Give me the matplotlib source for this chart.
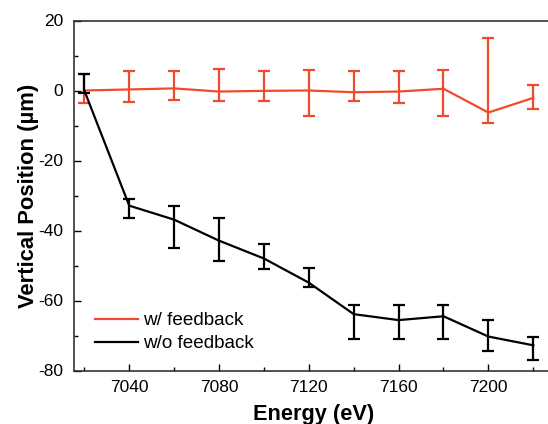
import matplotlib
matplotlib.use("Agg")
import matplotlib.pyplot as plt
import numpy as np
from matplotlib.ticker import MultipleLocator
from matplotlib.lines import Line2D

plt.rcParams['font.family'] = ['Liberation Sans', 'DejaVu Sans']
plt.rcParams['axes.unicode_minus'] = False

energy = [7020, 7040, 7060, 7080, 7100, 7120, 7140, 7160, 7180, 7200, 7220]

fb_y = [0.0, 0.3, 0.6, -0.3, -0.1, 0.0, -0.5, -0.3, 0.5, -6.3, -2.1]
fb_top = [4.6, 5.6, 5.6, 6.1, 5.6, 6.0, 5.6, 5.6, 6.0, 15.1, 1.7]
fb_bot = [-3.5, -3.4, -2.6, -3.0, -3.0, -7.3, -3.0, -3.5, -7.3, -9.3, -5.3]

nofb_y = [0.0, -32.9, -36.9, -42.9, -48.0, -54.9, -63.9, -65.6, -64.5, -70.3, -72.8]
nofb_top = [4.8, -31.1, -32.9, -36.3, -43.9, -50.7, -61.3, -61.3, -61.3, -65.6, -70.3]
nofb_bot = [-0.7, -36.3, -44.9, -48.8, -51.1, -56.0, -70.9, -70.9, -70.9, -74.3, -77.1]

labels = ['w/ feedback', 'w/o feedback']
xticks = [7040, 7080, 7120, 7160, 7200]
yticks = [20, 0, -20, -40, -60, -80]

red = '#f04a2c'

fig = plt.figure(figsize=(5.48, 4.24), dpi=100)
ax = fig.add_axes([74/548, 1 - 370.5/424, (548 - 74)/548 + 0.01, 350/424])

def errs(y, top, bot):
    y = np.array(y); top = np.array(top); bot = np.array(bot)
    return np.vstack([y - bot, top - y])

ax.errorbar(energy, fb_y, yerr=errs(fb_y, fb_top, fb_bot), color=red, lw=1.6,
            elinewidth=1.6, capsize=4, capthick=1.6, zorder=2)
ax.errorbar(energy, nofb_y, yerr=errs(nofb_y, nofb_top, nofb_bot), color='black', lw=1.6,
            elinewidth=1.6, capsize=4, capthick=1.6, zorder=3)

ax.set_xlim(7015.4, 7229)
ax.set_ylim(-80, 20)
ax.set_xticks(xticks)
ax.set_yticks(yticks)
ax.xaxis.set_minor_locator(MultipleLocator(20))
ax.yaxis.set_minor_locator(MultipleLocator(10))
ax.tick_params(which='both', direction='in', labelsize=12.5, width=1)
ax.tick_params(which='major', length=5)
ax.tick_params(which='minor', length=3)
ax.tick_params(axis='x', pad=7)
ax.tick_params(axis='y', pad=8)
ax.spines['right'].set_visible(False)
for s in ['left', 'bottom', 'top']:
    ax.spines[s].set_linewidth(1.2)
    ax.spines[s].set_color('#333333')

ax.set_xlabel('Energy (eV)', fontsize=15.7, fontweight='bold', labelpad=6)
ax.set_ylabel('Vertical Position (µm)', fontsize=15.8, fontweight='bold', labelpad=-0.5)

hl = [Line2D([], [], color=red, lw=1.6), Line2D([], [], color='black', lw=1.6)]
ax.legend(hl, labels, loc='lower left', bbox_to_anchor=(0.008, 0.003), frameon=False,
          fontsize=13.6, handlelength=2.27, handletextpad=0.27, labelspacing=0.32)

fig.savefig('out.png', dpi=100)
